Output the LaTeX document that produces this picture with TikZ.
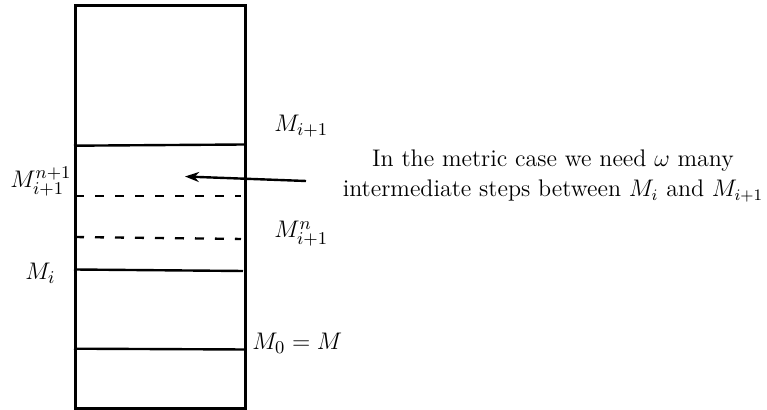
\documentclass[tikz,border=0pt]{standalone}
\usetikzlibrary{arrows.meta}
\begin{document}
\begin{tikzpicture}[x=0.5pt,y=-0.5pt,
  lbl/.style={font=\fontsize{12.5}{15}\selectfont, inner sep=0pt},
  note/.style={font=\fontsize{12}{15}\selectfont, inner sep=0pt, align=center},
  level/.style={line width=1.2pt},
  dlevel/.style={line width=1.2pt, dash pattern=on 4.5pt off 5.5pt},
  pointer/.style={line width=1.2pt, -{Stealth[length=7pt,width=5pt]}}]
\useasboundingbox (0,0) rectangle (767,410);
\node[draw, line width=1.5pt, minimum width=85pt, minimum height=201.5pt, inner sep=0pt, anchor=north west] (box) at (74,4) {};
% levels
\coordinate (l1a) at (74,145.7); \coordinate (l1b) at (244.5,144.5);
\coordinate (d1a) at (75,196); \coordinate (d1b) at (241,196);
\coordinate (d2a) at (75,237); \coordinate (d2b) at (241,239);
\coordinate (l2a) at (74,269.5); \coordinate (l2b) at (243,271);
\coordinate (l3a) at (74,348.7); \coordinate (l3b) at (244.5,349.5);
\draw[level] (l1a) -- (l1b);
\draw[dlevel] (d1a) -- (d1b);
\draw[dlevel] (d2a) -- (d2b);
\draw[level] (l2a) -- (l2b);
\draw[level] (l3a) -- (l3b);
% labels
\node[lbl, anchor=base west] (mip1) at (274,132) {$M_{i+1}$};
\node[lbl, anchor=base west] (mn1) at (10,188) {$M_{i+1}^{n+1}$};
\node[lbl, anchor=base west] (mn) at (274,238) {$M_{i+1}^{n}$};
\node[lbl, anchor=base west] (mi) at (25,280) {$M_{i}$};
\node[lbl, anchor=base west] (m0) at (252,350) {$M_{0} = M$};
\node[note] (note) at (553,176) {In the metric case we need $\omega$ many\\intermediate steps between $M_i$ and $M_{i+1}$};
\coordinate (tip) at (185,176.5);
\draw[pointer] (306,181) coordinate (tail) -- (tip);
\end{tikzpicture}
\end{document}
